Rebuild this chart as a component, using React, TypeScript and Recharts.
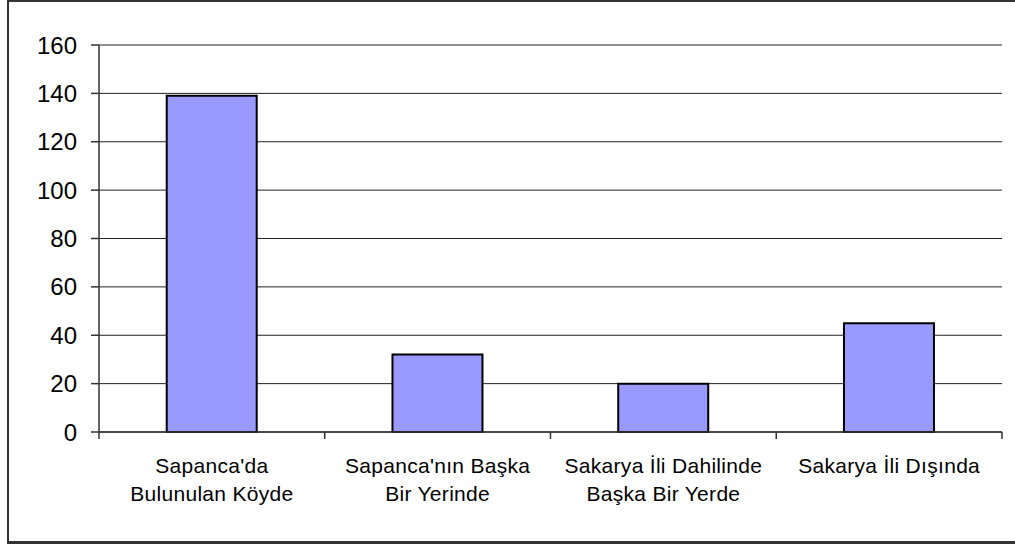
import React from "react";
import { BarChart, Bar, XAxis, YAxis, CartesianGrid } from "recharts";

const categories = [
  "Sapanca'da Bulunulan Köyde",
  "Sapanca'nın Başka Bir Yerinde",
  "Sakarya İli Dahilinde Başka Bir Yerde",
  "Sakarya İli Dışında",
];
const labelLines: string[][] = [
  ["Sapanca'da", "Bulunulan Köyde"],
  ["Sapanca'nın Başka", "Bir Yerinde"],
  ["Sakarya İli Dahilinde", "Başka Bir Yerde"],
  ["Sakarya İli Dışında"],
];
const values = [139, 32, 20, 45];
const yTicks = [0, 20, 40, 60, 80, 100, 120, 140, 160];

const data = categories.map((c, i) => ({ name: c, value: values[i] }));

const FONT = "Arial, 'Liberation Sans', sans-serif";

const CatTick = (props: any) => {
  const { x, y, index, payload, visibleTicksCount } = props;
  const lines = labelLines[index] || [];
  const half = payload && payload.offset ? payload.offset : 0;
  const count = visibleTicksCount || categories.length;
  return (
    <g>
      {half > 0 && (
        <line x1={x - half} x2={x - half} y1={y} y2={y + 7} stroke="#333" strokeWidth={1.5} />
      )}
      {half > 0 && index === count - 1 && (
        <line x1={x + half} x2={x + half} y1={y} y2={y + 7} stroke="#333" strokeWidth={1.5} />
      )}
      {lines.map((l, i) => (
        <text
          key={i}
          x={x}
          y={y + 41 + i * 28}
          textAnchor="middle"
          fontFamily={FONT}
          fontSize={21}
          fill="#000"
          letterSpacing={0.3}
        >
          {l}
        </text>
      ))}
    </g>
  );
};

export default function App() {
  return (
    <div style={{ position: "absolute", left: 0, top: 0, width: 1015, height: 544, overflow: "hidden", background: "#fff" }}>
      <div
        style={{
          position: "absolute",
          left: 7,
          top: 0,
          width: 1030,
          height: 544,
          boxSizing: "border-box",
          borderLeft: "2px solid #333",
          borderTop: "2px solid #333",
          borderBottom: "3px solid #333",
        }}
      />
      <div style={{ position: "absolute", left: 0, top: 0 }}>
        <BarChart
          width={1015}
          height={544}
          data={data}
          margin={{ top: 45, right: 13, bottom: 0, left: 0 }}
          barCategoryGap="30%"
        >
          <CartesianGrid xAxisId="cat" yAxisId="left" vertical={false} stroke="#222" strokeWidth={1} />
          <XAxis
            xAxisId="cat"
            dataKey="name"
            height={112}
            tickSize={0}
            tickMargin={0}
            tickLine={false}
            axisLine={{ stroke: "#333", strokeWidth: 1.5 }}
            tick={<CatTick />}
            interval={0}
          />
          <YAxis
            yAxisId="left"
            domain={[0, 160]}
            ticks={yTicks}
            width={99}
            tickSize={8}
            tickMargin={14}
            interval={0}
            axisLine={{ stroke: "#333", strokeWidth: 1.5 }}
            tickLine={{ stroke: "#333", strokeWidth: 1.5 }}
            tick={{ fontFamily: FONT, fontSize: 24, fill: "#000" }}
          />
          <YAxis
            yAxisId="right"
            orientation="right"
            domain={[0, 160]}
            width={0}
            tick={false}
            tickLine={false}
            axisLine={{ stroke: "#333", strokeWidth: 1.5 }}
          />
          <Bar
            xAxisId="cat"
            yAxisId="left"
            dataKey="value"
            fill="#9999FF"
            stroke="#000"
            strokeWidth={2}
            isAnimationActive={false}
          />
        </BarChart>
      </div>
    </div>
  );
}
